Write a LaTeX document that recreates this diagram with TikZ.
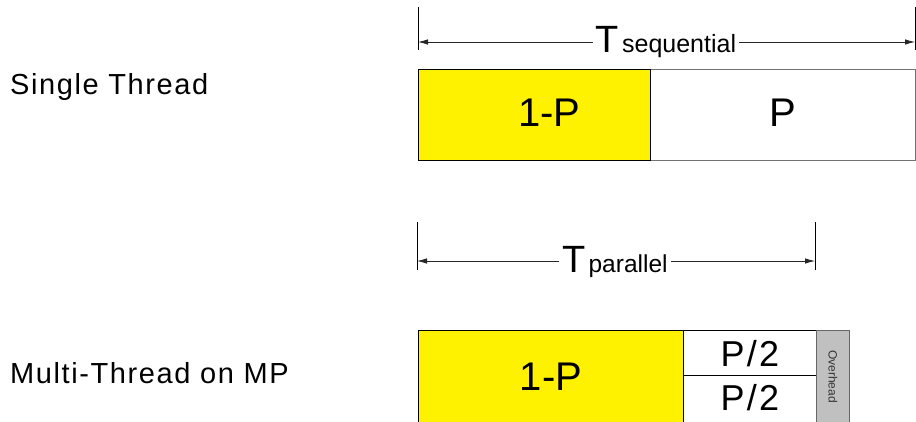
\documentclass[tikz,border=0pt]{standalone}
\usepackage{fontspec}
\setmainfont{Liberation Sans}
\usetikzlibrary{arrows.meta}
\definecolor{ovgray}{HTML}{C0C0C0}
\begin{document}
\begin{tikzpicture}[x=1pt,y=-1pt,
  box/.style={draw=black,line width=0.8pt,rectangle,inner sep=0pt,anchor=north west},
  big/.style={font=\fontsize{40}{40}\selectfont},
  mid/.style={font=\fontsize{36}{36}\selectfont\addfontfeatures{LetterSpace=6}},
  side/.style={font=\fontsize{29}{29}\selectfont\addfontfeatures{LetterSpace=5.5},anchor=base west,inner sep=0pt},
  tickline/.style={line width=0.9pt,black},
  dim/.style={line width=0.8pt,black!85,-{Latex[length=10pt,width=5.5pt]}},
  dimlabel/.style={anchor=base,inner ysep=0pt,inner xsep=3pt}
]
\clip (0,0) rectangle (916,421);
% side labels
\node[side] (st) at (10,94) {Single Thread};
\node[side] (mt) at (10,383) {Multi-Thread on MP};

% sequential bar
\node[box,draw=black!55,minimum width=265pt,minimum height=91pt] (seqB) at (650,69) {};
\node[box,fill=yellow,minimum width=232pt,minimum height=91pt] (seqA) at (418,69) {};
\node[big] at ([xshift=15pt,yshift=2pt]seqA.center) {1-P};
\node[big] at ([yshift=2pt]seqB.center) {P};

% sequential dimension
\coordinate (s1t) at (418,7);  \coordinate (s1b) at (418,50);
\coordinate (s2t) at (915,7);  \coordinate (s2b) at (915,50);
\coordinate (sa) at (418,42);  \coordinate (sb) at (915,42);
\draw[tickline] (s1t) -- (s1b);
\draw[tickline] (s2t) -- (s2b);
\node[dimlabel] (tseq) at (666,52) {{\fontsize{38}{38}\selectfont T}\hspace{3pt}{\fontsize{25}{25}\selectfont sequential}};
\draw[dim] (tseq.west |- sa) -- (sa);
\draw[dim] (tseq.east |- sb) -- (sb);

% parallel dimension
\coordinate (p1t) at (417,222);  \coordinate (p1b) at (417,270);
\coordinate (p2t) at (815,222);  \coordinate (p2b) at (815,270);
\coordinate (pa) at (417,261);   \coordinate (pb) at (815,261);
\draw[tickline] (p1t) -- (p1b);
\draw[tickline] (p2t) -- (p2b);
\node[dimlabel] (tpar) at (615,272) {{\fontsize{38}{38}\selectfont T}\hspace{3pt}{\fontsize{24.5}{24.5}\selectfont parallel}};
\draw[dim] (tpar.west |- pa) -- (pa);
\draw[dim] (tpar.east |- pb) -- (pb);

% parallel bar
\node[box,fill=yellow,minimum width=265pt,minimum height=92pt] (parA) at (418,330) {};
\node[box,minimum width=133pt,minimum height=45pt] (half1) at (683,330) {};
\node[box,minimum width=133pt,minimum height=47pt] (half2) at (683,375) {};
\node[box,fill=ovgray,draw=black!60,minimum width=33pt,minimum height=92pt] (ov) at (816,330) {};
\node[big] at (parA.center) {1-P};
\node[mid] at ([yshift=-1pt]half1.center) {P/2};
\node[mid] at ([yshift=1pt]half2.center) {P/2};
\node[rotate=-90,font=\fontsize{12}{12}\selectfont,text=black!80,inner sep=0pt] at (ov.center) {Overhead};
\end{tikzpicture}
\end{document}
